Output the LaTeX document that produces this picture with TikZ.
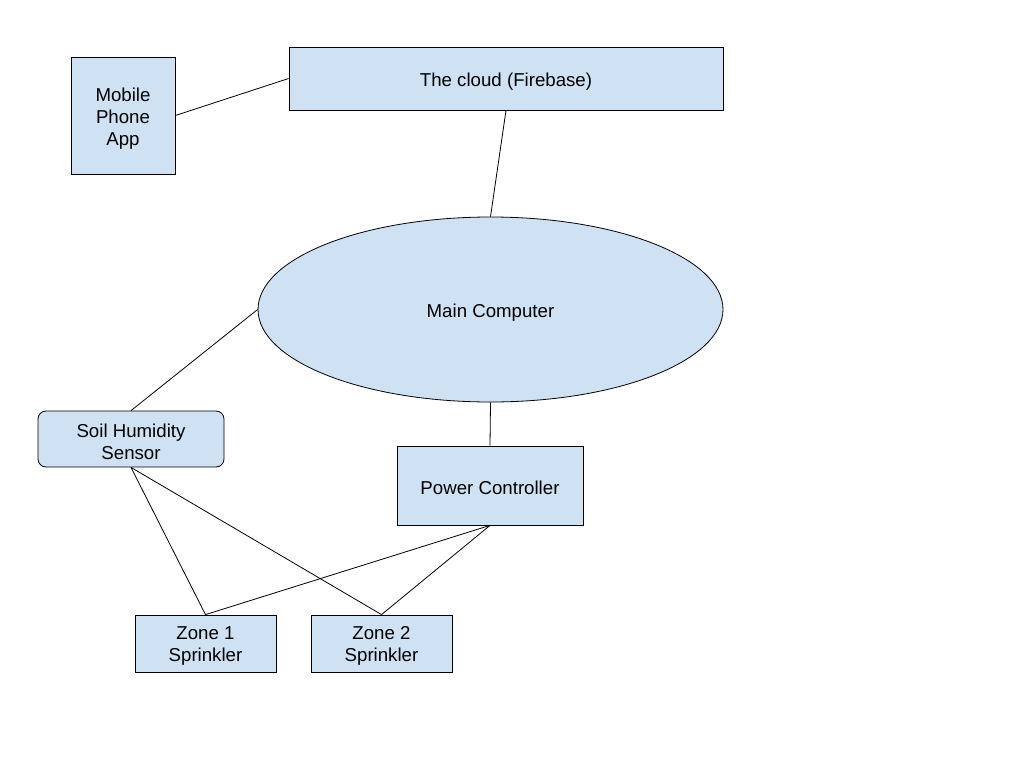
\documentclass[tikz,border=0pt]{standalone}
\usepackage{fontspec}
\setmainfont{Liberation Sans}
\usetikzlibrary{shapes.geometric}
\definecolor{boxfill}{HTML}{CFE2F3}
\begin{document}
\begin{tikzpicture}[x=1pt,y=-1pt,
  base/.style={draw=black, fill=boxfill, line width=0.8pt, inner sep=0pt},
  boxnode/.style={base, rectangle},
  roundbox/.style={base, rectangle, rounded corners=8pt},
  ellnode/.style={base, ellipse},
  txt/.style={align=center, inner sep=0pt, yshift=-2.7pt, font=\fontsize{18.67}{22}\selectfont},
  link/.style={draw=black, line width=0.8pt}]
\useasboundingbox (0,0) rectangle (1024,768);
\node[boxnode, minimum width=104pt, minimum height=117pt, label={[txt]center:Mobile\\Phone\\App}] (app) at (123,115.5) {};
\node[boxnode, minimum width=434pt, minimum height=63pt, label={[txt]center:The cloud (Firebase)}] (cloud) at (506,78.5) {};
\node[ellnode, minimum width=465pt, minimum height=185pt, label={[txt]center:Main Computer}] (main) at (490.5,309.5) {};
\node[roundbox, minimum width=186pt, minimum height=56pt, label={[txt]center:Soil Humidity\\Sensor}] (soil) at (131,439) {};
\node[boxnode, minimum width=186pt, minimum height=79pt, label={[txt]center:Power Controller}] (power) at (490,485.5) {};
\node[boxnode, minimum width=141pt, minimum height=57pt, label={[txt]center:Zone 1\\Sprinkler}] (z1) at (205.5,643.5) {};
\node[boxnode, minimum width=141pt, minimum height=57pt, label={[txt]center:Zone 2\\Sprinkler}] (z2) at (381.5,643.5) {};
\draw[link] (app.east) -- (cloud.west);
\draw[link] (cloud.south) -- (main.north);
\draw[link] (main.west) -- (soil.north);
\draw[link] (main.south) -- (power.north);
\draw[link] (soil.south) -- (z1.north);
\draw[link] (soil.south) -- (z2.north);
\draw[link] (power.south) -- (z1.north);
\draw[link] (power.south) -- (z2.north);
\end{tikzpicture}
\end{document}
